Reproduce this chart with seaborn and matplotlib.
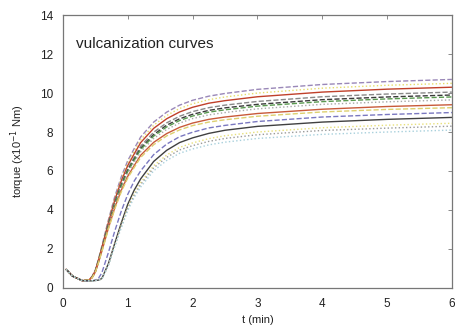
import matplotlib
matplotlib.use("Agg")
import matplotlib.pyplot as plt
import seaborn as sns
import pandas as pd

# time grid (min)
t = [0.05, 0.15, 0.3, 0.4, 0.45, 0.5, 0.55, 0.6, 0.7, 0.8, 0.9, 1.0, 1.1, 1.2,
     1.4, 1.6, 1.8, 2.0, 2.25, 2.5, 3.0, 4.0, 5.0, 6.0]

early_lead = [0.95, 0.60, 0.37, 0.40]
early_lag = [0.95, 0.60, 0.37, 0.36]

c01 = early_lead + [0.59, 0.92, 1.50, 2.14, 3.47, 4.69, 5.70, 6.53, 7.15, 7.75, 8.51, 9.02, 9.38, 9.63, 9.84, 9.98, 10.19, 10.44, 10.59, 10.70]
c02 = early_lead + [0.58, 0.90, 1.47, 2.10, 3.40, 4.60, 5.60, 6.41, 7.01, 7.60, 8.35, 8.85, 9.21, 9.45, 9.66, 9.80, 10.00, 10.25, 10.40, 10.50]
c03 = early_lead + [0.57, 0.89, 1.44, 2.06, 3.34, 4.51, 5.49, 6.28, 6.88, 7.46, 8.19, 8.68, 9.03, 9.27, 9.48, 9.61, 9.81, 10.05, 10.20, 10.30]
c04 = early_lead + [0.55, 0.86, 1.41, 2.01, 3.26, 4.40, 5.36, 6.13, 6.71, 7.28, 7.99, 8.47, 8.81, 9.05, 9.25, 9.38, 9.57, 9.81, 9.95, 10.05]
c05 = early_lead + [0.54, 0.85, 1.39, 1.98, 3.21, 4.34, 5.28, 6.04, 6.61, 7.17, 7.87, 8.35, 8.68, 8.91, 9.11, 9.24, 9.42, 9.66, 9.80, 9.90]
c06 = early_lead + [0.54, 0.84, 1.37, 1.96, 3.18, 4.29, 5.22, 5.98, 6.55, 7.10, 7.79, 8.26, 8.59, 8.82, 9.02, 9.14, 9.33, 9.56, 9.70, 9.80]
c07 = early_lead + [0.53, 0.83, 1.35, 1.93, 3.13, 4.23, 5.14, 5.89, 6.45, 6.99, 7.67, 8.13, 8.46, 8.69, 8.88, 9.00, 9.19, 9.42, 9.55, 9.65]
c08 = early_lead + [0.52, 0.81, 1.32, 1.88, 3.05, 4.12, 5.01, 5.73, 6.28, 6.81, 7.47, 7.92, 8.24, 8.46, 8.65, 8.77, 8.95, 9.17, 9.31, 9.40]
c09 = early_lead + [0.51, 0.80, 1.30, 1.85, 3.00, 4.05, 4.93, 5.64, 6.18, 6.70, 7.35, 7.80, 8.11, 8.33, 8.51, 8.63, 8.81, 9.03, 9.16, 9.25]
c10 = early_lag + [0.36, 0.40, 0.50, 0.77, 1.80, 2.92, 3.94, 4.80, 5.49, 6.01, 6.84, 7.38, 7.76, 7.99, 8.21, 8.34, 8.54, 8.77, 8.90, 9.00]
c11 = early_lag + [0.36, 0.38, 0.40, 0.48, 1.23, 2.29, 3.33, 4.29, 5.02, 5.60, 6.49, 7.06, 7.46, 7.70, 7.93, 8.09, 8.29, 8.51, 8.65, 8.75]
c12 = early_lag + [0.36, 0.38, 0.40, 0.46, 1.18, 2.21, 3.21, 4.14, 4.85, 5.41, 6.27, 6.82, 7.21, 7.44, 7.66, 7.81, 8.00, 8.22, 8.35, 8.45]
c13 = early_lag + [0.36, 0.38, 0.40, 0.46, 1.16, 2.17, 3.15, 4.07, 4.76, 5.31, 6.16, 6.70, 7.08, 7.30, 7.52, 7.67, 7.86, 8.08, 8.20, 8.30]
c14 = early_lag + [0.36, 0.38, 0.40, 0.45, 1.13, 2.12, 3.08, 3.97, 4.65, 5.18, 6.01, 6.54, 6.91, 7.13, 7.34, 7.48, 7.67, 7.88, 8.00, 8.10]

curves = [c01, c02, c03, c04, c05, c06, c07, c08, c09, c10, c11, c12, c13, c14]
colors = ['#9a88b8', '#e6dc6a', '#c0402a', '#8a8a8a', '#3a3a3a', '#5a9a50', '#a8a8a8',
          '#c85a3a', '#ddd070', '#7a78c0', '#404040', '#e8e07a', '#9a9a9a', '#a8d0dc']
styles = ['--', ':', '-', '--', '--', '--', ':', '-', '--', '--', '-', ':', ':', ':']

rows = []
for i, c in enumerate(curves):
    for tt, v in zip(t, c):
        rows.append({'t': tt, 'torque': v, 'curve': i})
df = pd.DataFrame(rows)

sns.set_style("white")
plt.rcParams['font.family'] = ['Liberation Sans', 'DejaVu Sans']

fig = plt.figure(figsize=(4.56, 3.29), dpi=100)
ax = fig.add_axes([0.138, 0.125, 0.853, 0.829])

for i in range(len(curves)):
    sub = df[df['curve'] == i]
    sns.lineplot(data=sub, x='t', y='torque', ax=ax, color=colors[i],
                 linestyle=styles[i], linewidth=1.0, legend=False)

ax.set_xlim(0, 6)
ax.set_ylim(0, 14)
ax.set_xticks(range(0, 7))
ax.set_yticks(range(0, 15, 2))
ax.tick_params(direction='in', top=True, right=True, length=3, width=0.6,
               color='#777777', labelsize=8.5, labelcolor='#222222', pad=7)
for s in ax.spines.values():
    s.set_color('#777777')
    s.set_linewidth(0.9)
ax.set_xlabel('t (min)', fontsize=8, color='#222222', labelpad=4)
ax.set_ylabel('torque (x10$^{-1}$ Nm)', fontsize=8, color='#222222', labelpad=9)
ax.text(0.2, 12.5, 'vulcanization curves', fontsize=11, color='#222222', va='center')

fig.savefig('out.png', dpi=100)
